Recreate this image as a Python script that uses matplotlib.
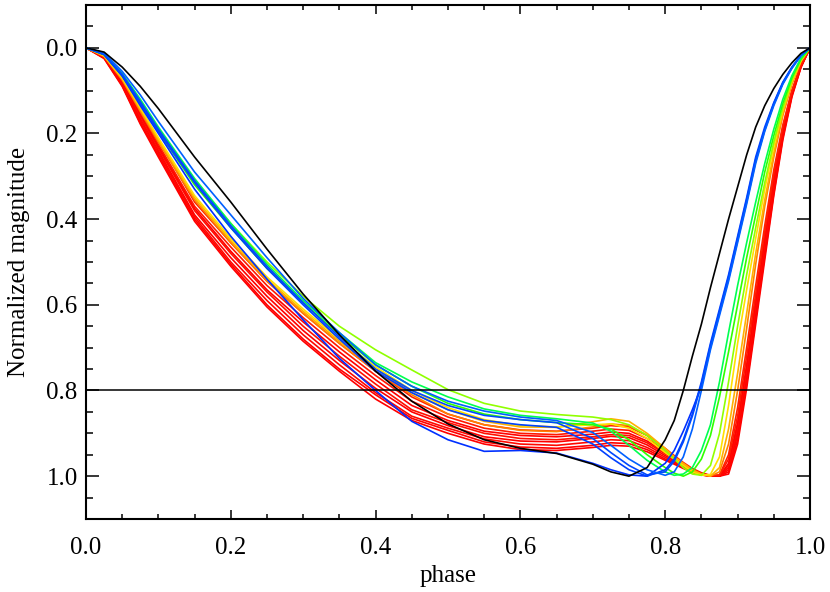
import numpy as np
import matplotlib.pyplot as plt
from matplotlib.ticker import MultipleLocator

# phase grid shared by all light curves
phase = [0.0, 0.025, 0.05, 0.075, 0.1, 0.15, 0.2, 0.25, 0.3, 0.35, 0.4, 0.45,
         0.5, 0.55, 0.6, 0.65, 0.7, 0.725, 0.75, 0.775,
         0.8, 0.8125, 0.825, 0.8375, 0.85, 0.8625, 0.875,
         0.8875, 0.9, 0.9125, 0.925, 0.9375, 0.95, 0.9625, 0.975, 0.9875, 1.0]

# normalized magnitude of each curve
black = [0, 0.01, 0.045, 0.09, 0.142, 0.255, 0.36, 0.47, 0.575, 0.67, 0.755, 0.825,
         0.878, 0.915, 0.935, 0.947, 0.972, 0.99, 1.0, 0.98,
         0.915, 0.87, 0.80, 0.72, 0.645, 0.56, 0.48,
         0.40, 0.325, 0.25, 0.185, 0.135, 0.095, 0.062, 0.035, 0.013, 0]
blue_a = [0, 0.012, 0.055, 0.11, 0.172, 0.29, 0.39, 0.49, 0.585, 0.665, 0.74, 0.79,
          0.825, 0.848, 0.862, 0.87, 0.898, 0.928, 0.96, 0.985,
          0.998, 0.99, 0.955, 0.89, 0.80, 0.705, 0.625,
          0.545, 0.455, 0.365, 0.27, 0.195, 0.135, 0.085, 0.048, 0.018, 0]
blue_b = [0, 0.015, 0.062, 0.125, 0.19, 0.31, 0.415, 0.51, 0.595, 0.675, 0.75, 0.80,
          0.835, 0.858, 0.868, 0.875, 0.912, 0.945, 0.975, 0.997,
          0.99, 0.965, 0.92, 0.86, 0.785, 0.695, 0.615,
          0.535, 0.445, 0.355, 0.26, 0.19, 0.13, 0.082, 0.046, 0.017, 0]
blue_c = [0, 0.015, 0.065, 0.13, 0.195, 0.315, 0.42, 0.515, 0.60, 0.68, 0.755, 0.805,
          0.845, 0.87, 0.88, 0.886, 0.925, 0.957, 0.985, 1.0,
          0.985, 0.96, 0.915, 0.855, 0.78, 0.69, 0.61,
          0.53, 0.44, 0.35, 0.255, 0.185, 0.128, 0.08, 0.045, 0.017, 0]
blue_d = [0, 0.016, 0.066, 0.135, 0.2, 0.33, 0.44, 0.54, 0.635, 0.725, 0.80, 0.872,
          0.915, 0.942, 0.94, 0.946, 0.97, 0.985, 0.997, 1.0,
          0.97, 0.94, 0.895, 0.845, 0.79, 0.70, 0.62,
          0.54, 0.45, 0.36, 0.265, 0.192, 0.132, 0.083, 0.047, 0.018, 0]
green_a = [0, 0.014, 0.06, 0.12, 0.185, 0.305, 0.41, 0.505, 0.59, 0.665, 0.735, 0.78,
           0.815, 0.843, 0.858, 0.866, 0.876, 0.895, 0.928, 0.963,
           0.99, 0.998, 0.995, 0.98, 0.94, 0.88, 0.78,
           0.665, 0.555, 0.455, 0.36, 0.27, 0.19, 0.12, 0.065, 0.024, 0]
green_b = [0, 0.016, 0.065, 0.128, 0.195, 0.32, 0.42, 0.515, 0.595, 0.67, 0.74, 0.79,
           0.83, 0.855, 0.868, 0.875, 0.88, 0.89, 0.915, 0.95,
           0.98, 0.993, 1.0, 0.99, 0.96, 0.905, 0.815,
           0.71, 0.60, 0.49, 0.39, 0.29, 0.205, 0.13, 0.07, 0.026, 0]
lime = [0, 0.015, 0.062, 0.125, 0.19, 0.31, 0.41, 0.50, 0.58, 0.65, 0.705, 0.752,
        0.798, 0.83, 0.848, 0.856, 0.862, 0.868, 0.88, 0.905,
        0.94, 0.96, 0.98, 0.995, 0.998, 0.975, 0.90,
        0.78, 0.65, 0.53, 0.42, 0.315, 0.22, 0.14, 0.075, 0.028, 0]
yellow = [0, 0.018, 0.07, 0.14, 0.21, 0.345, 0.445, 0.535, 0.61, 0.68, 0.745, 0.80,
          0.84, 0.868, 0.882, 0.885, 0.88, 0.878, 0.888, 0.912,
          0.945, 0.96, 0.975, 0.99, 0.998, 0.996, 0.955,
          0.835, 0.69, 0.565, 0.445, 0.33, 0.23, 0.145, 0.078, 0.03, 0]
gold = [0, 0.019, 0.072, 0.143, 0.215, 0.35, 0.45, 0.54, 0.615, 0.685, 0.75, 0.805,
        0.845, 0.872, 0.885, 0.886, 0.873, 0.866, 0.872, 0.90,
        0.935, 0.955, 0.97, 0.985, 0.995, 1.0, 0.98,
        0.89, 0.76, 0.62, 0.48, 0.355, 0.245, 0.152, 0.082, 0.031, 0]
orange = [0, 0.02, 0.075, 0.148, 0.22, 0.355, 0.455, 0.545, 0.62, 0.69, 0.755, 0.81,
          0.855, 0.88, 0.893, 0.896, 0.885, 0.878, 0.882, 0.905,
          0.94, 0.957, 0.972, 0.987, 0.996, 1.0, 0.99,
          0.925, 0.80, 0.655, 0.505, 0.37, 0.255, 0.158, 0.085, 0.032, 0]
red1 = [0, 0.018, 0.07, 0.145, 0.215, 0.36, 0.455, 0.545, 0.62, 0.69, 0.755, 0.815,
        0.855, 0.88, 0.892, 0.895, 0.888, 0.882, 0.885, 0.905,
        0.935, 0.952, 0.968, 0.982, 0.992, 0.998, 0.997,
        0.95, 0.84, 0.70, 0.555, 0.415, 0.285, 0.18, 0.10, 0.04, 0]
red2 = [0, 0.02, 0.075, 0.15, 0.225, 0.37, 0.465, 0.555, 0.63, 0.70, 0.765, 0.825,
        0.862, 0.888, 0.90, 0.903, 0.895, 0.89, 0.893, 0.912,
        0.94, 0.956, 0.97, 0.984, 0.993, 0.999, 0.998,
        0.96, 0.86, 0.72, 0.575, 0.43, 0.295, 0.185, 0.10, 0.04, 0]
red3 = [0, 0.02, 0.078, 0.155, 0.23, 0.375, 0.475, 0.565, 0.64, 0.71, 0.775, 0.835,
        0.87, 0.895, 0.905, 0.908, 0.902, 0.897, 0.90, 0.918,
        0.945, 0.958, 0.972, 0.985, 0.994, 0.999, 1.0,
        0.97, 0.875, 0.74, 0.59, 0.445, 0.305, 0.19, 0.105, 0.04, 0]
red4 = [0, 0.022, 0.08, 0.16, 0.235, 0.38, 0.48, 0.57, 0.65, 0.72, 0.785, 0.845,
        0.875, 0.90, 0.912, 0.915, 0.908, 0.903, 0.905, 0.922,
        0.948, 0.96, 0.974, 0.986, 0.995, 1.0, 1.0,
        0.975, 0.885, 0.75, 0.60, 0.455, 0.315, 0.195, 0.105, 0.042, 0]
red5 = [0, 0.022, 0.082, 0.165, 0.24, 0.39, 0.49, 0.58, 0.66, 0.73, 0.795, 0.85,
        0.882, 0.908, 0.918, 0.92, 0.912, 0.907, 0.91, 0.927,
        0.952, 0.964, 0.976, 0.987, 0.995, 0.999, 1.0,
        0.98, 0.895, 0.765, 0.615, 0.465, 0.325, 0.20, 0.108, 0.042, 0]
red6 = [0, 0.023, 0.085, 0.17, 0.245, 0.395, 0.50, 0.59, 0.67, 0.74, 0.805, 0.86,
        0.888, 0.913, 0.925, 0.928, 0.92, 0.915, 0.917, 0.933,
        0.956, 0.967, 0.978, 0.988, 0.996, 1.0, 1.0,
        0.985, 0.905, 0.775, 0.625, 0.475, 0.33, 0.205, 0.11, 0.044, 0]
red7 = [0, 0.024, 0.088, 0.175, 0.25, 0.40, 0.505, 0.60, 0.68, 0.75, 0.81, 0.865,
        0.893, 0.92, 0.932, 0.935, 0.928, 0.922, 0.924, 0.938,
        0.96, 0.97, 0.98, 0.99, 0.997, 1.0, 1.0,
        0.99, 0.915, 0.785, 0.635, 0.485, 0.34, 0.21, 0.112, 0.045, 0]
red8 = [0, 0.025, 0.09, 0.178, 0.255, 0.405, 0.51, 0.605, 0.685, 0.755, 0.82, 0.87,
        0.90, 0.925, 0.938, 0.94, 0.933, 0.928, 0.93, 0.943,
        0.963, 0.972, 0.982, 0.991, 0.997, 1.0, 1.0,
        0.995, 0.925, 0.795, 0.645, 0.495, 0.345, 0.215, 0.115, 0.046, 0]

# drawing order: reds first, then orange .. blue, black last
curves = [red8, red7, red6, red5, red4, red3, red2, red1,
          orange, gold, yellow, lime, green_b, green_a,
          blue_d, blue_c, blue_b, blue_a, black]
colors = ['#ff0000', '#ff0000', '#ff0800', '#ff0000', '#ff1000', '#ff0000', '#ff1800', '#ff2000',
          '#ff8000', '#ffb000', '#ffe000', '#90ff00', '#30ff00', '#00ff50',
          '#0030ff', '#0040ff', '#0048ff', '#0060ff', '#000000']

ref_level = 0.8

if __name__ == '__main__':
    plt.rcParams['font.family'] = ['Liberation Serif', 'DejaVu Serif']
    fig = plt.figure(figsize=(8.3, 5.92), dpi=100)
    ax = fig.add_axes([0.1036, 0.1233, 0.8723, 0.8683])

    for y, c in zip(curves, colors):
        ax.plot(phase, y, color=c, lw=1.2)
    ax.axhline(ref_level, color='black', lw=1.1)

    ax.set_xlim(0, 1)
    ax.set_ylim(1.1, -0.1)
    ax.xaxis.set_major_locator(MultipleLocator(0.2))
    ax.xaxis.set_minor_locator(MultipleLocator(0.05))
    ax.yaxis.set_major_locator(MultipleLocator(0.2))
    ax.yaxis.set_minor_locator(MultipleLocator(0.05))
    ax.xaxis.set_major_formatter(lambda v, p: '%.1f' % (v + 0.0))
    ax.yaxis.set_major_formatter(lambda v, p: '%.1f' % (v + 0.0))
    ax.tick_params(which='both', direction='in', top=True, right=True, width=1.1, labelsize=18)
    ax.tick_params(axis='x', which='major', length=6.5, pad=13)
    ax.tick_params(axis='x', which='minor', length=3.6)
    ax.tick_params(axis='y', which='major', length=9.5, pad=6)
    ax.tick_params(axis='y', which='minor', length=5)
    for s in ax.spines.values():
        s.set_linewidth(1.5)

    ax.set_xlabel('phase', fontsize=18, labelpad=4)
    ax.set_ylabel('Normalized magnitude', fontsize=18, labelpad=12)

    fig.savefig('out.png', dpi=100)
